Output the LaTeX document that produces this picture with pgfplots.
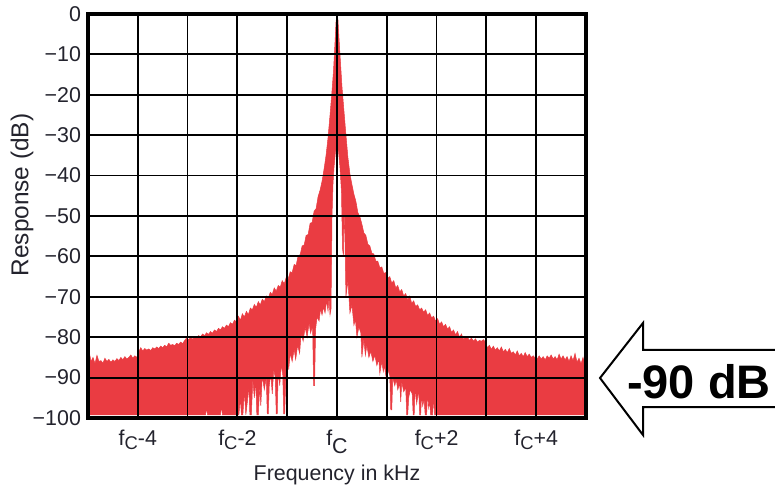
\documentclass[border=0pt]{standalone}
\usepackage{fontspec}
\setmainfont{Liberation Sans}
\usepackage{pgfplots}
\pgfplotsset{compat=1.18}
\definecolor{specred}{RGB}{234,60,66}
\definecolor{txt}{RGB}{35,35,45}
\newcommand{\fc}[1]{f\raisebox{-2.2pt}{\fontsize{9.2}{9.2}\selectfont C}#1}
\begin{document}
\begin{tikzpicture}
\path[use as bounding box] (0,0) rectangle (387.5pt,243.5pt);
\begin{axis}[
  at={(44pt,34.5pt)}, anchor=south west,
  scale only axis, width=249pt, height=202pt,
  xmin=-5, xmax=5, ymin=-100, ymax=0,
  xtick={-4,-3,-2,-1,0,1,2,3,4},
  xticklabels={\fc{-4},,\fc{-2},,f\raisebox{-4pt}{C},,\fc{+2},,\fc{+4}},
  ytick={-100,-90,-80,-70,-60,-50,-40,-30,-20,-10,0},
  yticklabels={−100,−90,−80,−70,−60,−50,−40,−30,−20,−10,0},
  grid=major,
  major grid style={black, line width=0.9pt},
  axis line style={black, line width=1.8pt},
  major tick length=0pt,
  axis on top,
  tick label style={font=\fontsize{10.7}{12}\selectfont, text=txt},
  xticklabel style={anchor=base, yshift=-13.5pt},
  xlabel={Frequency in kHz},
  xlabel style={at={(axis description cs:0.5,-0.1535)}, anchor=base, font=\fontsize{10.7}{12}\selectfont, text=txt},
  ylabel={Response (dB)},
  ylabel style={at={(axis description cs:-0.1325,0.552)}, anchor=center, font=\fontsize{12.2}{14}\selectfont, text=txt},
]
\addplot[fill=specred, draw=specred, line width=0.25pt] coordinates {
(-5.00,-85.5) (-4.97,-84.0) (-4.94,-86.0) (-4.90,-85.0) (-4.86,-86.5) (-4.82,-84.5)
(-4.78,-86.0) (-4.74,-85.8) (-4.70,-86.4) (-4.66,-85.2) (-4.62,-86.0) (-4.58,-85.5)
(-4.54,-86.2) (-4.50,-85.6) (-4.46,-86.0) (-4.42,-85.3) (-4.38,-85.8) (-4.34,-85.0)
(-4.30,-85.6) (-4.26,-84.8) (-4.22,-85.4) (-4.18,-85.0) (-4.14,-84.4) (-4.10,-85.2)
(-4.06,-84.6) (-4.02,-85.0) (-3.98,-83.6) (-3.94,-82.6) (-3.90,-83.4) (-3.86,-82.8)
(-3.82,-83.2) (-3.78,-82.9) (-3.74,-83.3) (-3.70,-82.6) (-3.66,-82.9) (-3.62,-82.4)
(-3.58,-82.8) (-3.54,-82.2) (-3.50,-82.6) (-3.46,-82.0) (-3.42,-82.4) (-3.38,-81.5)
(-3.34,-82.0) (-3.30,-81.8) (-3.26,-82.1) (-3.22,-81.5) (-3.18,-81.8) (-3.14,-81.2)
(-3.10,-81.6) (-3.06,-80.8) (-3.02,-80.2) (-2.98,-80.6) (-2.94,-80.1) (-2.90,-80.5)
(-2.86,-79.8) (-2.82,-80.2) (-2.78,-79.6) (-2.74,-79.9) (-2.70,-79.2) (-2.66,-79.6)
(-2.62,-78.9) (-2.58,-79.3) (-2.54,-78.6) (-2.50,-79.0) (-2.46,-78.2) (-2.42,-78.6)
(-2.38,-77.8) (-2.34,-78.2) (-2.30,-77.4) (-2.26,-77.8) (-2.22,-77.0) (-2.18,-77.4)
(-2.14,-76.4) (-2.10,-76.8) (-2.06,-75.8) (-2.02,-76.2) (-1.98,-74.8) (-1.94,-75.8)
(-1.90,-74.2) (-1.86,-75.0) (-1.82,-73.6) (-1.78,-74.4) (-1.74,-72.8) (-1.70,-73.2)
(-1.66,-71.9) (-1.62,-72.6) (-1.58,-71.2) (-1.54,-72.0) (-1.50,-70.6) (-1.46,-71.2)
(-1.42,-69.8) (-1.38,-70.4) (-1.34,-68.9) (-1.30,-69.4) (-1.26,-67.8) (-1.22,-68.6)
(-1.18,-67.2) (-1.14,-67.6) (-1.10,-66.0) (-1.06,-66.8) (-1.02,-65.2) (-0.98,-65.6)
(-0.94,-63.8) (-0.90,-64.0) (-0.86,-62.0) (-0.82,-62.2) (-0.78,-59.8) (-0.74,-59.6)
(-0.70,-57.4) (-0.66,-57.2) (-0.62,-54.8) (-0.58,-54.6) (-0.54,-51.8) (-0.50,-51.6)
(-0.46,-48.8) (-0.42,-48.2) (-0.38,-45.2) (-0.34,-43.6) (-0.30,-41.4) (-0.26,-38.4)
(-0.22,-35.0) (-0.18,-30.6) (-0.14,-25.0) (-0.10,-19.0) (-0.07,-14.0) (-0.04,-7.0)
(-0.02,-2.0) (0.00,0.0) (0.02,-1.5) (0.04,-6.0) (0.07,-12.0) (0.10,-18.0)
(0.14,-24.0) (0.18,-30.0) (0.22,-35.6) (0.26,-39.6) (0.30,-42.2) (0.34,-44.6)
(0.38,-46.4) (0.42,-49.2) (0.46,-50.2) (0.50,-52.0) (0.54,-54.2) (0.58,-54.8)
(0.62,-57.0) (0.66,-57.4) (0.70,-59.2) (0.74,-59.4) (0.78,-61.2) (0.82,-61.2)
(0.86,-62.8) (0.90,-62.6) (0.94,-64.2) (0.98,-64.0) (1.02,-65.4) (1.06,-65.0)
(1.10,-66.6) (1.14,-66.0) (1.18,-67.8) (1.22,-67.2) (1.26,-68.8) (1.30,-68.2)
(1.34,-69.8) (1.38,-69.2) (1.42,-70.8) (1.46,-69.8) (1.50,-71.6) (1.54,-71.0)
(1.58,-72.4) (1.62,-72.0) (1.66,-73.2) (1.70,-72.8) (1.74,-73.8) (1.78,-73.2)
(1.82,-74.6) (1.86,-74.0) (1.90,-75.2) (1.94,-74.8) (1.98,-76.0) (2.02,-75.4)
(2.06,-76.8) (2.10,-76.2) (2.14,-77.4) (2.18,-76.8) (2.22,-78.0) (2.26,-77.4)
(2.30,-78.8) (2.34,-78.2) (2.38,-79.4) (2.42,-78.6) (2.46,-80.0) (2.50,-79.2)
(2.54,-80.6) (2.58,-79.8) (2.62,-80.0) (2.66,-80.8) (2.70,-80.2) (2.74,-81.0)
(2.78,-80.4) (2.82,-81.2) (2.86,-80.8) (2.90,-81.0) (2.94,-80.6) (2.98,-81.2)
(3.02,-82.6) (3.06,-82.0) (3.10,-83.0) (3.14,-82.2) (3.18,-83.2) (3.22,-82.6)
(3.26,-83.4) (3.30,-82.4) (3.34,-83.6) (3.38,-83.0) (3.42,-83.8) (3.46,-82.8)
(3.50,-84.0) (3.54,-83.6) (3.58,-84.4) (3.62,-83.4) (3.66,-84.6) (3.70,-84.0)
(3.74,-84.8) (3.78,-83.8) (3.82,-84.8) (3.86,-84.2) (3.90,-85.0) (3.94,-84.6)
(3.98,-85.2) (4.02,-85.4) (4.06,-84.6) (4.10,-85.4) (4.14,-84.8) (4.18,-85.6)
(4.22,-84.6) (4.26,-85.2) (4.30,-84.4) (4.34,-85.4) (4.38,-84.8) (4.42,-85.6)
(4.46,-84.2) (4.50,-85.4) (4.54,-84.6) (4.58,-85.6) (4.62,-84.8) (4.66,-86.0)
(4.70,-84.6) (4.74,-85.8) (4.78,-84.0) (4.82,-86.2) (4.86,-85.2) (4.90,-86.6)
(4.94,-85.0) (4.97,-86.4) (5.00,-86.8)
(5.00,-99.2) (2.00,-99.2) (1.96,-99.2) (1.94,-95.0) (1.92,-99.2) (1.88,-99.2)
(1.86,-96.0) (1.84,-97.5) (1.82,-93.5) (1.80,-99.2) (1.77,-99.2) (1.75,-95.5)
(1.72,-97.0) (1.70,-94.0) (1.68,-99.2) (1.66,-99.2) (1.64,-93.0) (1.60,-96.5)
(1.57,-92.5) (1.55,-99.2) (1.53,-99.2) (1.51,-94.0) (1.47,-93.0) (1.44,-95.0)
(1.42,-99.2) (1.40,-99.2) (1.38,-92.5) (1.34,-93.5) (1.30,-91.0) (1.28,-96.0)
(1.26,-91.5) (1.22,-93.0) (1.19,-90.5) (1.16,-92.0) (1.12,-90.0) (1.10,-98.0)
(1.08,-98.0) (1.06,-89.5) (1.02,-88.0) (0.98,-89.5) (0.95,-87.0) (0.93,-88.5)
(0.90,-86.0) (0.86,-89.0) (0.84,-85.5) (0.80,-87.0) (0.76,-84.5) (0.72,-86.0)
(0.68,-83.5) (0.64,-85.0) (0.60,-82.0) (0.57,-84.5) (0.54,-80.5) (0.50,-85.0)
(0.48,-79.0) (0.44,-77.5) (0.40,-80.0) (0.37,-75.5) (0.34,-77.0) (0.30,-72.0)
(0.26,-74.0) (0.22,-66.0) (0.18,-70.0) (0.16,-56.0) (0.14,-48.0) (0.13,-60.0)
(0.11,-58.0) (0.09,-44.0) (0.07,-40.0) (0.06,-38.0) (0.03,-34.0) (0.00,-33.0)
(-0.03,-34.0) (-0.06,-38.0) (-0.08,-42.0) (-0.10,-50.0) (-0.12,-73.0) (-0.14,-74.5)
(-0.16,-70.0) (-0.18,-73.5) (-0.21,-71.0) (-0.24,-74.0) (-0.27,-72.5) (-0.30,-74.5)
(-0.33,-73.0) (-0.36,-76.0) (-0.40,-75.0) (-0.43,-78.0) (-0.45,-92.0) (-0.47,-92.0)
(-0.49,-77.0) (-0.53,-79.0) (-0.56,-76.5) (-0.60,-80.0) (-0.64,-77.5) (-0.68,-81.0)
(-0.72,-79.0) (-0.75,-84.0) (-0.79,-82.0) (-0.83,-85.5) (-0.86,-83.0) (-0.90,-86.0)
(-0.94,-84.0) (-0.97,-88.0) (-1.00,-83.5) (-1.03,-91.0) (-1.05,-99.0) (-1.07,-99.0)
(-1.09,-89.0) (-1.12,-87.0) (-1.15,-92.0) (-1.18,-88.0) (-1.20,-99.0) (-1.22,-99.0)
(-1.24,-90.0) (-1.27,-88.0) (-1.30,-94.0) (-1.33,-89.0) (-1.36,-92.0) (-1.38,-99.0)
(-1.40,-99.0) (-1.42,-90.0) (-1.46,-93.0) (-1.50,-89.5) (-1.53,-97.0) (-1.55,-92.0)
(-1.58,-99.2) (-1.61,-99.2) (-1.63,-91.0) (-1.66,-95.0) (-1.69,-90.5) (-1.72,-99.2)
(-1.75,-99.2) (-1.77,-92.0) (-1.80,-96.0) (-1.83,-99.2) (-1.86,-93.5) (-1.89,-99.2)
(-1.92,-99.2) (-1.94,-95.0) (-1.97,-99.2) (-2.00,-99.2) (-2.30,-99.2) (-2.32,-97.0)
(-2.34,-99.2) (-2.60,-99.2) (-2.62,-97.5) (-2.64,-99.2) (-5.00,-99.2)
};
\end{axis}
\draw[black, line width=1pt, line join=miter]
  (387.5pt,68.5pt) -- (321.5pt,68.5pt) -- (321.5pt,82pt) -- (300pt,54.5pt)
  -- (321.5pt,26pt) -- (321.5pt,40pt) -- (387.5pt,40pt);
\node[anchor=base, inner sep=0pt, font=\fontsize{23.5}{26}\selectfont\bfseries] at (349.5pt,44.5pt) {-90 dB};
\end{tikzpicture}
\end{document}
